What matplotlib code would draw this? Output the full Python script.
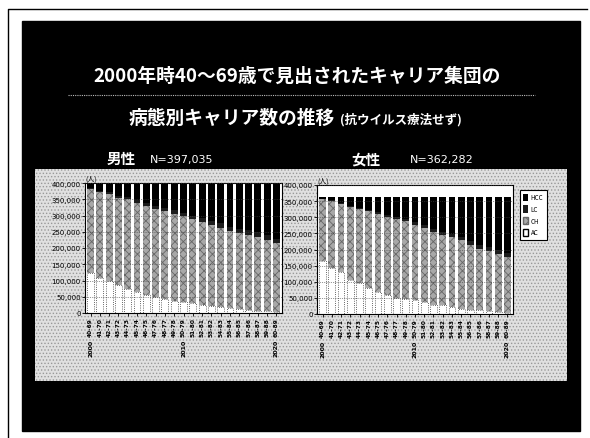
import matplotlib.pyplot as plt
from matplotlib.patches import Rectangle, Patch
import numpy as np

plt.rcParams['font.family'] = ['Noto Sans CJK JP', 'DejaVu Sans']
plt.rcParams['hatch.linewidth'] = 0.6

# 各年の年齢層（2000年に40～69歳のコホート）
age_labels = ['40-69', '41-70', '42-71', '43-72', '44-73', '45-74', '46-75',
              '47-76', '48-77', '49-78', '50-79', '51-80', '52-81', '53-82',
              '54-83', '55-84', '56-85', '57-86', '58-87', '59-88', '60-89']
year_marks = {0: '2000', 10: '2010', 20: '2020'}

# 男性 (人)
male_total = 397035
male_ac = [122000, 108000, 97000, 85000, 75000, 65000, 55000, 49000, 43000, 38000, 35000,
           30000, 25000, 22000, 17000, 14000, 11000, 9000, 7000, 5000, 4000]
male_ch = [259000, 264000, 269000, 270000, 275000, 274000, 275000, 272000, 271000, 268000, 263000,
           258000, 254000, 249000, 246000, 237000, 235000, 232000, 227000, 219000, 210000]
male_lc = [3000, 4000, 5000, 6000, 6500, 7500, 8000, 9000, 9500, 10000, 11000,
           11500, 12000, 12500, 13000, 13500, 14000, 14000, 14500, 15000, 15000]

# 女性 (人)
female_total = 362282
female_ac = [164000, 144000, 130000, 105000, 95000, 80000, 68000, 58000, 50000, 46000, 42000,
             37000, 29000, 27000, 21000, 17000, 13000, 11000, 8000, 5000, 4000]
female_ch = [192000, 206000, 211000, 227000, 230000, 238000, 241000, 244000, 244000, 241000, 235000,
             231000, 226000, 219000, 217000, 211000, 201000, 192000, 187000, 182000, 173000]
female_lc = [2000, 3000, 3500, 4000, 5000, 5500, 6000, 6500, 7000, 7500, 8000,
             8500, 9000, 9500, 10000, 10500, 11000, 11000, 11500, 12000, 12000]

W, H = 590, 439
fig = plt.figure(figsize=(W / 100, H / 100), dpi=100)
fig.patch.set_facecolor('white')

# 背景（スライド枠）をピクセル座標で描く
bg = fig.add_axes([0, 0, 1, 1])
bg.set_xlim(0, W)
bg.set_ylim(H, 0)
bg.axis('off')
bg.plot([8, 8, 587], [439, 10, 10], color='black', lw=1)
bg.add_patch(Rectangle((22, 22), 558, 410, color='black'))
bg.add_patch(Rectangle((35, 170), 532, 212, facecolor='#e0e0e0', edgecolor='#999999',
                       hatch='.....', lw=0))
bg.plot([68, 535], [96, 96], color='#bbbbbb', lw=0.8, ls=(0, (1, 1)))

bg.text(297, 76, '2000年時40〜69歳で見出されたキャリア集団の', color='white',
        fontsize=13.5, fontweight='bold', ha='center', va='center')
bg.text(335, 118, '病態別キャリア数の推移', color='white', fontsize=13.5,
        fontweight='bold', ha='right', va='center')
bg.text(340, 120, '(抗ウイルス療法せず)', color='white', fontsize=9,
        fontweight='bold', ha='left', va='center')

bg.text(121, 159, '男性', color='white', fontsize=10.5, fontweight='bold', ha='center', va='center')
bg.text(150, 160, 'N=397,035', color='white', fontsize=8, ha='left', va='center',
        family='DejaVu Sans')
bg.text(366, 159, '女性', color='white', fontsize=10.5, fontweight='bold', ha='center', va='center')
bg.text(410, 160, 'N=362,282', color='white', fontsize=8, ha='left', va='center',
        family='DejaVu Sans')


def draw_chart(ax, ac, ch, lc, total):
    x = np.arange(len(ac))
    ac = np.array(ac)
    ch = np.array(ch)
    lc = np.array(lc)
    hcc = total - ac - ch - lc
    w = 0.74
    ax.bar(x, ac, width=w, color='white', edgecolor='#333333', lw=0.6, ls=':')
    ax.bar(x, ch, bottom=ac, width=w, color='#a8a8a8', edgecolor='#666666',
           hatch='xxxx', lw=0)
    ax.bar(x, lc, bottom=ac + ch, width=w, color='#1c1c1c', lw=0)
    ax.bar(x, hcc, bottom=ac + ch + lc, width=w, color='black', lw=0)

    ax.set_xlim(-0.6, len(ac) - 0.4)
    ax.set_ylim(0, 400000)
    ax.set_yticks(range(0, 400001, 50000))
    ax.set_yticklabels([f'{v:,}' for v in range(0, 400001, 50000)],
                       fontsize=5, family='DejaVu Sans')
    ax.set_xticks(x)
    ax.set_xticklabels(age_labels, rotation=90, fontsize=4.2, family='DejaVu Sans',
                       fontweight='bold')
    ax.tick_params(length=2, width=0.6, pad=1)
    ax.yaxis.grid(True, color='#444444', lw=0.4, ls=(0, (2, 2)))
    ax.set_axisbelow(False)
    for s in ax.spines.values():
        s.set_linewidth(0.8)
    ax.set_facecolor('white')
    ax.text(0.0, 1.0, '(人)', transform=ax.transAxes, fontsize=5, ha='left', va='bottom')
    for i, yr in year_marks.items():
        ax.text(i, -0.2, yr, transform=ax.get_xaxis_transform(), rotation=90,
                fontsize=4.5, fontweight='bold', ha='center', va='top', family='DejaVu Sans')


ax_m = fig.add_axes([85 / W, 1 - 314 / H, 197 / W, 130 / H])
draw_chart(ax_m, male_ac, male_ch, male_lc, male_total)

ax_f = fig.add_axes([317 / W, 1 - 315 / H, 196 / W, 129 / H])
draw_chart(ax_f, female_ac, female_ch, female_lc, female_total)

handles = [Patch(facecolor='black', label='HCC'),
           Patch(facecolor='#1c1c1c', label='LC'),
           Patch(facecolor='#a8a8a8', edgecolor='#666666', hatch='xxxx', label='CH'),
           Patch(facecolor='white', edgecolor='black', label='AC')]
leg = fig.legend(handles=handles, loc='upper left', bbox_to_anchor=(517 / W, 1 - 188 / H),
                 fontsize=4.5, handlelength=0.7, handleheight=1.4, labelspacing=0.6,
                 borderpad=0.5, handletextpad=0.5, fancybox=False, edgecolor='black',
                 framealpha=1)
leg.get_frame().set_linewidth(0.8)

fig.savefig('out.png', dpi=100)
